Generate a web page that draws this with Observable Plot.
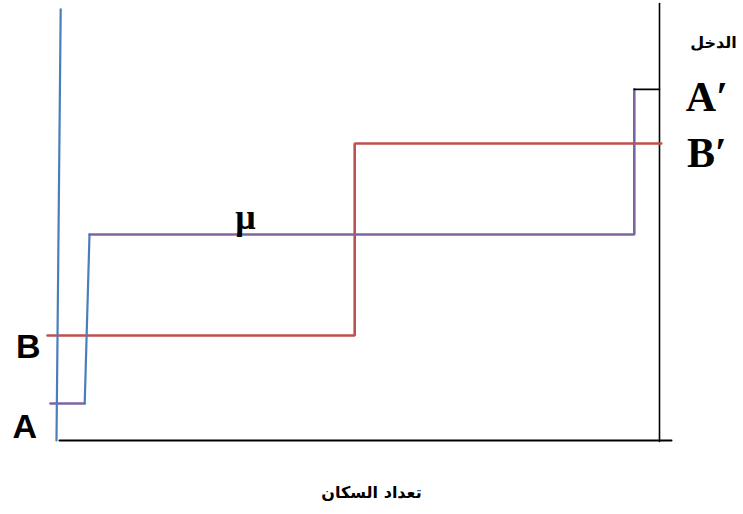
<!DOCTYPE html>
<html>
<head>
<meta charset="utf-8">
<script src="https://cdn.jsdelivr.net/npm/d3@7"></script>
<script src="https://cdn.jsdelivr.net/npm/@observablehq/plot@0.6"></script>
<style>
  html, body { margin: 0; padding: 0; background: #fff; }
  #chart svg { display: block; }
</style>
</head>
<body>
<div id="chart"></div>
<script>
// Income levels (conceptual units)
const levelA = 9.25;
const levelB = 26.25;
const levelMu = 51.5;
const levelBp = 74.25;
const levelAp = 87.8;

// Population positions (conceptual units)
const popStep1 = 4.2;
const popStep1Top = 5;
const popStepB = 49.2;
const popStepA = 95.8;
const popEnd = 100;

// Series (x = population, y = income)
const blueMain = [{x: -0.5, y: 0}, {x: 0.2, y: 107.8}];
const blueStep = [{x: popStep1, y: levelA}, {x: popStep1Top, y: levelMu}];
const purpleLow = [{x: -1.5, y: levelA}, {x: popStep1, y: levelA}];
const purpleHigh = [{x: popStep1Top, y: levelMu}, {x: popStepA, y: levelMu}, {x: popStepA, y: levelAp}];
const blackTop = [{x: popStepA, y: levelAp}, {x: popEnd, y: levelAp}];
const redSeries = [{x: -2, y: levelB}, {x: popStepB, y: levelB}, {x: popStepB, y: levelBp}, {x: 100.3, y: levelBp}];
const axisY = [{x: popEnd, y: -0.25}, {x: popEnd, y: 109.25}];
const axisX = [{x: 0, y: 0}, {x: 102, y: 0}];

const labelA = [{label: "A", x: -5.8, y: levelA}];
const labelB = [{label: "B", x: -5.2, y: levelB}];
const labelAp = [{label: "A\u2032", x: 107.9, y: levelAp}];
const labelBp = [{label: "B\u2032", x: 107.9, y: levelBp}];
const muLabel = [{label: "\u03bc", x: 31, y: levelMu}];
const axisTitles = [
  {label: "الدخل", x: 109, y: 99.5},
  {label: "تعداد السكان", x: 52, y: -13}
];

const blue = "#4a7ebb", purple = "#8064a2", red = "#c0504d";
const sans = {fontSize: 34, fontWeight: "bold", fontFamily: "Liberation Sans, Arial, sans-serif", fill: "black"};
const serif = {fontSize: 42, fontWeight: "bold", fontFamily: "Liberation Serif, DejaVu Serif, serif", fill: "black"};

const chart = Plot.plot({
  width: 743,
  height: 514,
  margin: 0,
  x: {domain: [-59/6, 684/6], axis: null},
  y: {domain: [-18.5, 110], axis: null},
  marks: [
    Plot.line(axisY, {x: "x", y: "y", stroke: "black", strokeWidth: 1.6}),
    Plot.line(axisX, {x: "x", y: "y", stroke: "black", strokeWidth: 2}),
    Plot.line(redSeries, {x: "x", y: "y", stroke: red, strokeWidth: 2.6, strokeLinejoin: "miter"}),
    Plot.line(purpleLow, {x: "x", y: "y", stroke: purple, strokeWidth: 2.6}),
    Plot.line(purpleHigh, {x: "x", y: "y", stroke: purple, strokeWidth: 2.6, strokeLinejoin: "miter"}),
    Plot.line(blackTop, {x: "x", y: "y", stroke: "black", strokeWidth: 1.8}),
    Plot.line(blueMain, {x: "x", y: "y", stroke: blue, strokeWidth: 2.2}),
    Plot.line(blueStep, {x: "x", y: "y", stroke: blue, strokeWidth: 2.2}),
    Plot.text(labelA, {x: "x", y: "y", dy: 24, text: "label", ...sans}),
    Plot.text(labelB, {x: "x", y: "y", dy: 12, text: "label", ...sans}),
    Plot.text(labelAp, {x: "x", y: "y", dy: 8, text: "label", ...serif}),
    Plot.text(labelBp, {x: "x", y: "y", dy: 10, text: "label", ...serif}),
    Plot.text(muLabel, {x: "x", y: "y", dy: -17, text: "label", fontSize: 36, fontWeight: "bold", fontFamily: "Liberation Serif, DejaVu Serif, serif", fill: "black"}),
    Plot.text(axisTitles, {x: "x", y: "y", text: "label", fontSize: 16, fontWeight: "bold", fontFamily: "DejaVu Sans, sans-serif", fill: "black"})
  ]
});
document.getElementById("chart").appendChild(chart);
</script>
</body>
</html>
